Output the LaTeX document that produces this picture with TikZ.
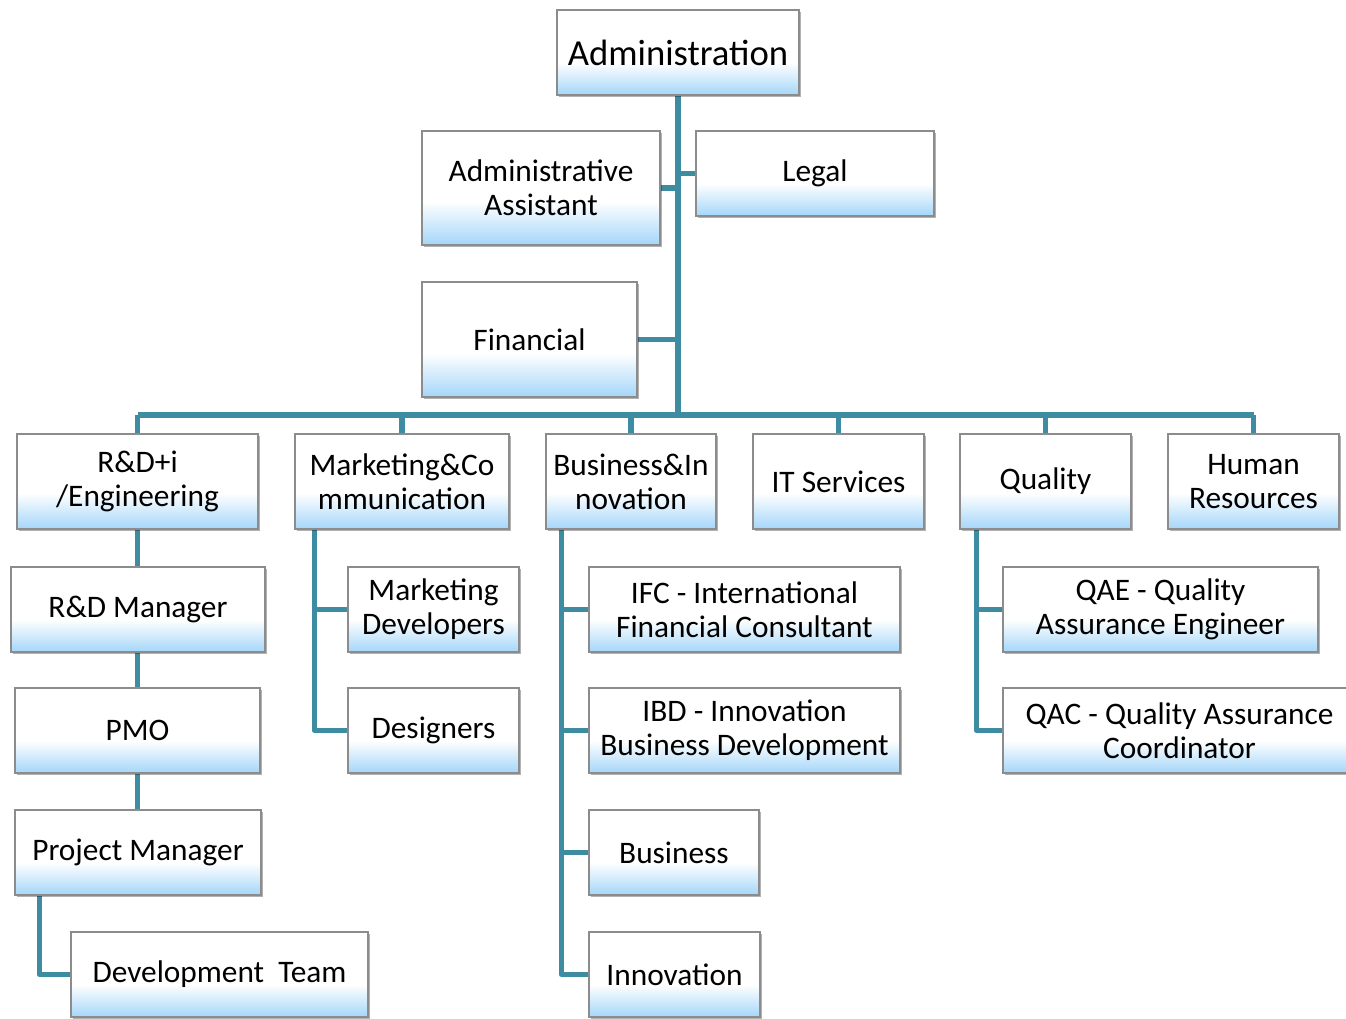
\documentclass[tikz,border=0pt]{standalone}
\usepackage{fontspec}
\setmainfont{Carlito}
\usetikzlibrary{shadows,backgrounds,calc}

\definecolor{orgblue}{RGB}{164,214,249}
\definecolor{orgline}{RGB}{62,140,161}
\definecolor{orgedge}{RGB}{140,140,140}

% white fading into light blue towards the lower edge
\pgfdeclareverticalshading{orgfill}{100bp}{
  color(0bp)=(orgblue); color(25bp)=(orgblue);
  color(44bp)=(white); color(100bp)=(white)}

\tikzset{
  orgbox/.style={draw=orgedge, line width=0.9pt, shading=orgfill,
    drop shadow={shadow xshift=1.6pt, shadow yshift=-1.6pt, fill=black, opacity=0.3},
    align=center, inner sep=0pt, text=black,
    font=\fontsize{23.5}{25.5}\selectfont},
  conn/.style={draw=orgline, line width=3.8pt, line join=round},
  trunk/.style={conn, line width=4.4pt}
}

% \orgbox{name}{left}{top}{right}{bottom}{text}
\newcommand\orgbox[6]{%
  \node[orgbox, minimum width={(#4-#2)*0.75pt}, minimum height={(#5-#3)*0.75pt}]
    (#1) at ({(#2+#4)/2},{(#3+#5)/2}) {#6};}

\begin{document}
\begin{tikzpicture}[x=0.75pt,y=-0.75pt]
\useasboundingbox (0,0) rectangle (1346,1018);

% top of the chart
\orgbox{admin}{557}{10}{799}{95}{\fontsize{27.5}{30}\selectfont Administration}
\orgbox{asst}{422}{131}{660}{245}{Administrative\\Assistant}
\orgbox{legal}{696}{131}{934}{216}{Legal}
\orgbox{fin}{422}{282}{637}{397}{Financial}

% departments
\orgbox{rdi}{17}{434}{258}{529}{R\&D+i\\/Engineering}
\orgbox{mktg}{295}{434}{509}{529}{Marketing\&Co\\mmunication}
\orgbox{bizinn}{546}{434}{716}{529}{Business\&In\\novation}
\orgbox{its}{753}{434}{924}{529}{IT Services}
\orgbox{qual}{960}{434}{1131}{529}{Quality}
\orgbox{hr}{1168}{434}{1339}{529}{Human\\Resources}

% R&D branch
\orgbox{rdmgr}{11}{567}{265}{652}{R\&D Manager}
\orgbox{pmo}{15}{688}{260}{773}{PMO}
\orgbox{pm}{15}{810}{261}{895}{Project Manager}
\orgbox{dev}{71}{932}{368}{1017}{Development\ \ Team}

% marketing branch
\orgbox{mdev}{348}{567}{519}{652}{Marketing\\Developers}
\orgbox{design}{348}{688}{519}{773}{Designers}

% business branch
\orgbox{ifc}{589}{567}{900}{652}{IFC - International\\Financial Consultant}
\orgbox{ibd}{589}{688}{900}{773}{IBD - Innovation\\Business Development}
\orgbox{biz}{589}{810}{759}{895}{Business}
\orgbox{inno}{589}{932}{760}{1017}{Innovation}

% quality branch
\orgbox{qae}{1003}{567}{1318}{652}{QAE - Quality\\Assurance Engineer}
\orgbox{qac}{1003}{688}{1356}{773}{QAC - Quality Assurance\\Coordinator}

\begin{pgfonlayer}{background}
  \coordinate (bus) at (0,415);
  % trunk and side boxes
  \draw[trunk] (admin.south) -- (admin.south |- bus);
  \draw[conn] (asst.east) -- (asst.east -| admin.south);
  \draw[conn] (legal.west) -- (legal.west -| admin.south);
  \draw[conn] (fin.east) -- (fin.east -| admin.south);
  % horizontal bus to departments
  \draw[conn] (rdi.north |- bus) -- (hr.north |- bus);
  \foreach \d in {rdi,mktg,bizinn,its,qual,hr}
    \draw[conn] (\d.north) -- (\d.north |- bus);
  % R&D chain
  \draw[conn] (rdi.south) -- (rdi.south |- rdmgr.north);
  \draw[conn] (rdmgr.south -| rdi.south) -- (rdi.south |- pmo.north);
  \draw[conn] (pmo.south -| rdi.south) -- (rdi.south |- pm.north);
  \draw[conn] ($(pm.south west)+(25,0)$) |- (dev.west);
  % marketing
  \draw[conn] ($(mktg.south west)+(20,0)$) |- (mdev.west);
  \draw[conn] ($(mktg.south west)+(20,0)$) |- (design.west);
  % business
  \foreach \b in {ifc,ibd,biz,inno}
    \draw[conn] ($(bizinn.south west)+(16,0)$) |- (\b.west);
  % quality
  \foreach \q in {qae,qac}
    \draw[conn] ($(qual.south west)+(17,0)$) |- (\q.west);
\end{pgfonlayer}
\end{tikzpicture}
\end{document}
